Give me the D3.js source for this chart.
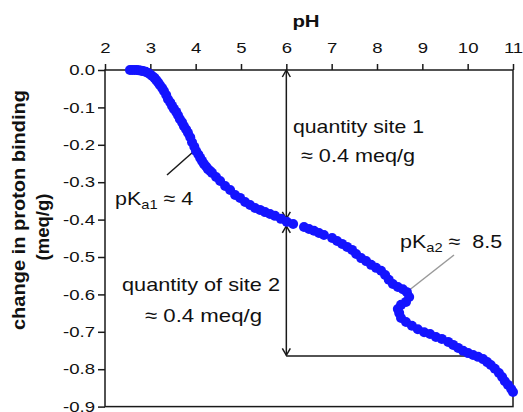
<!DOCTYPE html>
<html><head><meta charset="utf-8">
<script src="https://cdn.jsdelivr.net/npm/d3@7"></script>
<style>
body{margin:0;background:#fff}
svg{display:block}
text{font-family:"Liberation Sans",Arial,Helvetica,sans-serif;fill:#111}
</style>
</head><body>
<svg id="c" width="523" height="412"></svg>
<script>
// ---- data ----
const pH = [2.55,2.60,2.65,2.70,2.75,2.80,2.84,2.90,2.95,3.00,3.04,3.09,3.13,3.17,3.21,3.26,3.30,3.35,3.39,3.44,3.48,3.52,3.57,3.61,3.65,3.70,3.74,3.79,3.83,3.88,3.92,3.97,4.01,4.06,4.10,4.14,4.18,4.23,4.27,4.32,4.36,4.45,4.54,4.65,4.76,4.87,4.98,5.09,5.20,5.31,5.42,5.53,5.64,5.75,5.88,6.01,6.15,
  6.39,6.50,6.61,6.72,6.83,7.01,7.12,7.23,7.34,7.45,7.54,7.65,7.76,7.87,7.98,8.09,8.18,8.26,8.35,8.46,8.57,8.66,8.71,8.64,8.53,8.46,8.49,8.53,8.64,8.77,8.90,9.04,9.17,9.30,9.43,9.57,9.68,9.79,9.90,10.01,10.12,10.23,10.34,10.43,10.51,10.60,10.69,10.76,10.82,10.89,10.96,11.00];
const binding = [0,0,0,0,-0.001,-0.002,-0.003,-0.005,-0.008,-0.012,-0.016,-0.021,-0.027,-0.033,-0.040,-0.048,-0.056,-0.067,-0.078,-0.087,-0.096,-0.104,-0.112,-0.121,-0.131,-0.140,-0.150,-0.159,-0.168,-0.180,-0.193,-0.205,-0.217,-0.226,-0.235,-0.243,-0.251,-0.258,-0.265,-0.270,-0.275,-0.286,-0.297,-0.310,-0.321,-0.334,-0.342,-0.353,-0.361,-0.369,-0.374,-0.380,-0.385,-0.390,-0.398,-0.406,-0.412,
  -0.420,-0.425,-0.430,-0.436,-0.441,-0.449,-0.457,-0.465,-0.473,-0.481,-0.492,-0.503,-0.511,-0.521,-0.529,-0.537,-0.548,-0.561,-0.572,-0.580,-0.586,-0.594,-0.607,-0.620,-0.628,-0.639,-0.650,-0.663,-0.674,-0.684,-0.693,-0.701,-0.706,-0.714,-0.719,-0.727,-0.735,-0.743,-0.751,-0.757,-0.762,-0.767,-0.773,-0.781,-0.789,-0.799,-0.810,-0.821,-0.832,-0.842,-0.853,-0.861];
const xTicks = [2,3,4,5,6,7,8,9,10,11];
const yTicks = [0,-0.1,-0.2,-0.3,-0.4,-0.5,-0.6,-0.7,-0.8,-0.9];
const xTitle = "pH";
const yTitle = ["change in proton binding","(meq/g)"];
// annotation values
const sitePH = 6, site1 = [0,-0.398], site2 = [-0.417,-0.763], baseLine = [-0.765, 10];

// ---- drawing ----
const svg = d3.select("#c");
const x = d3.scaleLinear().domain([2,11]).range([105,513]);
const y = d3.scaleLinear().domain([0,-0.9]).range([70,406.6]);
const ink = "#1a1a1a";

function stretch(sel, k){
  sel.each(function(){
    const w = this.getComputedTextLength();
    d3.select(this).attr("textLength", w*k).attr("lengthAdjust","spacingAndGlyphs");
  });
}

// box
svg.append("rect").attr("x",x(2)).attr("y",y(0)).attr("width",x(11)-x(2)).attr("height",y(-0.9)-y(0))
  .attr("fill","none").attr("stroke",ink).attr("stroke-width",1.5);

const fmtY = d => Math.abs(d)<1e-9 ? "0.0" : d3.format(".1f")(d).replace("\u2212","-");
const gx = svg.append("g").attr("transform",`translate(0,${y(0)})`)
  .call(d3.axisTop(x).tickValues(xTicks).tickSize(6).tickSizeOuter(0).tickPadding(11).tickFormat(d3.format("d")));
const gy = svg.append("g").attr("transform",`translate(${x(2)},0)`)
  .call(d3.axisLeft(y).tickValues(yTicks).tickSize(7).tickSizeOuter(0).tickPadding(3).tickFormat(fmtY));
[gx,gy].forEach(g=>{
  g.select(".domain").remove();
  g.selectAll(".tick line").attr("stroke",ink).attr("stroke-width",1.5);
  g.selectAll(".tick text").attr("font-size",14.5).attr("font-family",null).attr("fill","#111");
  stretch(g.selectAll(".tick text"),1.28);
});

// titles
svg.append("text").attr("x",306).attr("y",27).attr("text-anchor","middle")
  .attr("font-size",17).attr("font-weight","bold").text(xTitle).call(stretch,1.2);
svg.append("text").attr("transform","translate(25,210) rotate(-90)").attr("text-anchor","middle")
  .attr("font-size",18.5).attr("font-weight","bold").text(yTitle[0]).attr("textLength",240).attr("lengthAdjust","spacingAndGlyphs");
svg.append("text").attr("transform","translate(49,227) rotate(-90)").attr("text-anchor","middle")
  .attr("font-size",18.5).attr("font-weight","bold").text(yTitle[1]);

// arrows
function arrowHead(px,py,dir){ // dir -1 up, +1 down
  svg.append("path").attr("d",`M${px-4},${py-dir*7}L${px},${py}L${px+4},${py-dir*7}`)
    .attr("fill","none").attr("stroke",ink).attr("stroke-width",1.5);
}
const ax = x(sitePH);
svg.append("line").attr("x1",ax).attr("x2",ax).attr("y1",y(site1[0])).attr("y2",y(site1[1])).attr("stroke",ink).attr("stroke-width",1.5);
arrowHead(ax,y(site1[0]),-1); arrowHead(ax,y(site1[1]),1);
svg.append("line").attr("x1",ax).attr("x2",ax).attr("y1",y(site2[0])).attr("y2",y(site2[1])).attr("stroke",ink).attr("stroke-width",1.5);
arrowHead(ax,y(site2[0]),-1); arrowHead(ax,y(site2[1]),1);
svg.append("line").attr("x1",ax).attr("x2",x(baseLine[1])).attr("y1",y(baseLine[0])).attr("y2",y(baseLine[0])).attr("stroke",ink).attr("stroke-width",1.5);

// pointer lines
svg.append("line").attr("x1",167).attr("y1",175).attr("x2",193).attr("y2",152).attr("stroke",ink).attr("stroke-width",1.5);
svg.append("line").attr("x1",403).attr("y1",295).attr("x2",454).attr("y2",255).attr("stroke","#999").attr("stroke-width",1.5);

// dots
svg.append("g").selectAll("circle").data(pH.map((p,i)=>[p,binding[i]])).join("circle")
  .attr("cx",d=>x(d[0])).attr("cy",d=>y(d[1])).attr("r",5).attr("fill","#1414ff");

// annotation text
function label(str,px,py,w,size){
  return svg.append("text").attr("x",px).attr("y",py).attr("font-size",size||19).text(str)
    .attr("textLength",w).attr("lengthAdjust","spacingAndGlyphs");
}
label("quantity site 1",293,133,131);
label("\u2248 0.4 meq/g",301,162,114);
label("quantity of site 2",122,291,158);
label("\u2248 0.4 meq/g",145,322,117);

function pk(sub,rest,px,py,k){
  const t = svg.append("text").attr("transform",`translate(${px},${py}) scale(${k},1)`).attr("font-size",19)
    .style("white-space","pre");
  t.append("tspan").text("pK");
  t.append("tspan").attr("font-size",13).attr("dy",4).text(sub);
  t.append("tspan").attr("dy",-4).text(rest);
}
pk("a1"," \u2248 4",115,205,1.13);
pk("a2"," \u2248\u00a0 8.5",400,248,1.13);
</script>
</body></html>
